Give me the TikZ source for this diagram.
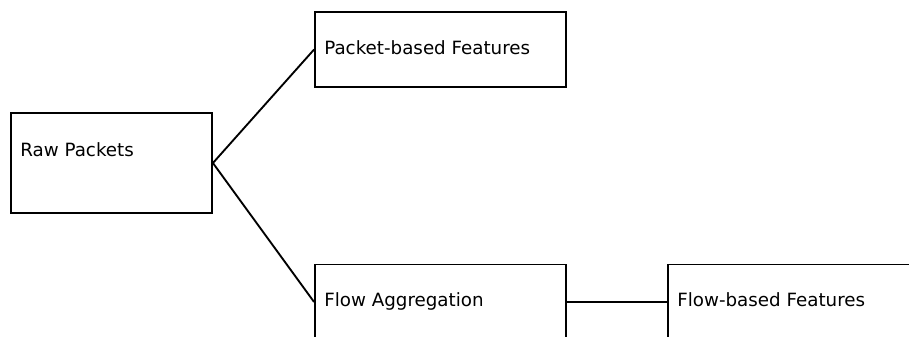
\documentclass[tikz,border=0pt]{standalone}
\usepackage{fontspec}
\setmainfont{DejaVu Sans}
\begin{document}
\begin{tikzpicture}[x=0.75pt, y=-0.75pt, line width=1.4pt,
	box/.style={draw, inner sep=0pt, minimum width=188.25pt, minimum height=56.25pt},
	txt/.style={anchor=base west, inner sep=0pt, font=\fontsize{13.7}{16}\selectfont, xshift=7pt}]
			%page size
			\useasboundingbox (0,0) rectangle (909,336);
			
			%boxes
			\node (raw) at (111.5,163) [box, minimum width=150.75pt, minimum height=75pt,
				label={[txt, yshift=4.9pt]west:Raw Packets}]{};
			\node (pkt) at (440.5,49.5) [box,
				label={[txt, yshift=-3.4pt]west:Packet-based Features}]{};
			\node (agg) at (440.5,302) [box,
				label={[txt, yshift=-3.6pt]west:Flow Aggregation}]{};
			\node (flowf) at (793.5,302) [box,
				label={[txt, yshift=-3.6pt]west:Flow-based Features}]{};
			
			%links
			\draw (raw.east) -- (pkt.west);
			\draw (raw.east) -- (agg.west);
			\draw (agg.east) -- (flowf.west);
		\end{tikzpicture}
\end{document}
